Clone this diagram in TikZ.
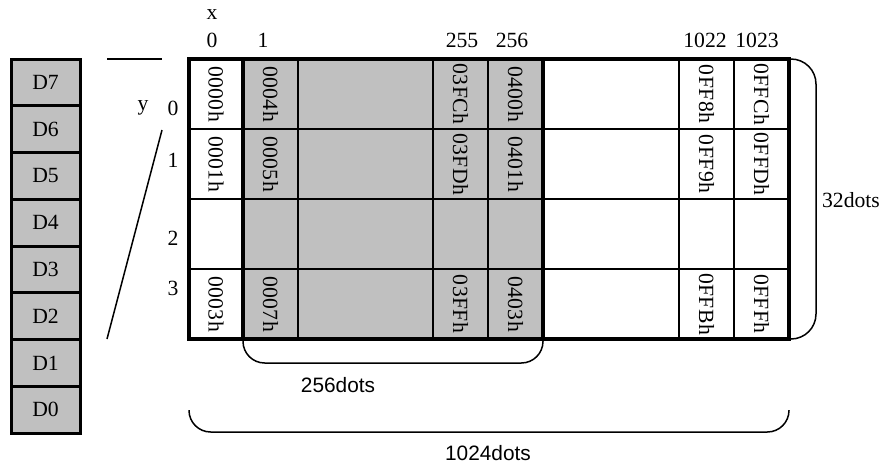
\documentclass[tikz,border=0pt]{standalone}
\usepackage{fontspec}
\setmainfont{Liberation Serif}
\newfontfamily\cellfont[LetterSpace=2]{Liberation Serif}
\newfontfamily\dotsfont{Liberation Sans}
\usetikzlibrary{positioning,calc}
\definecolor{cellgray}{HTML}{C0C0C0}

\begin{document}
\begin{tikzpicture}[x=0.6pt, y=-0.6pt,
      bitbox/.style={draw, line width=1.8pt, fill=cellgray, minimum width=41.4pt,
                     minimum height=28.05pt, inner sep=0pt, font=\fontsize{13}{13}\selectfont},
      addr/.style={rotate=-90, inner sep=0pt, font=\cellfont\fontsize{13}{13}\selectfont},
      idx/.style={inner sep=0pt, font=\fontsize{13}{13}\selectfont},
      dotslbl/.style={inner sep=0pt, font=\dotsfont\fontsize{12.5}{12.5}\selectfont},
      gridline/.style={line width=0.9pt},
      frame/.style={line width=1.9pt},
      brace/.style={line width=0.9pt}]
    \useasboundingbox (0,0) rectangle (883,467);
    % data bits D7 (top) ... D0 (bottom)
    \foreach \i in {0,...,7}
      \node[bitbox] (d\i) at (45.5,{433-46.75*(\i+0.5)}) {D\i};
    % memory grid
    \fill[cellgray] (243,59) rectangle (543,339);
    \foreach \cx in {298,433,488,679,734} \draw[gridline] (\cx,59) -- (\cx,339);
    \foreach \ry in {129,199,269} \draw[gridline] (189,\ry) -- (789,\ry);
    \draw[frame] (189,59) rectangle (789,339);
    \draw[frame] (243,59) rectangle (543,339);
    \coordinate (gtl) at (189,59);
    \coordinate (gtr) at (789,59);
    \coordinate (gbl) at (189,339);
    \coordinate (gbr) at (789,339);
    \coordinate (sbl) at (243,339);
    \coordinate (sbr) at (543,339);
    % addresses, rows 0, 1 and 3
    \foreach \cx/\a/\b/\c [count=\k] in {216/0000h/0001h/0003h, 270.5/0004h/0005h/0007h,
        460.5/03FCh/03FDh/03FFh, 515.5/0400h/0401h/0403h,
        706.5/0FF8h/0FF9h/0FFBh, 761.5/0FFCh/0FFDh/0FFFh} {
      \node[addr] (a\k r0) at (\cx,94) {\a};
      \node[addr] (a\k r1) at (\cx,164) {\b};
      \node[addr] (a\k r3) at (\cx,304) {\c};
    }
    % x and y indices
    \node[idx] (xlbl) at (212,15) {x};
    \foreach \cx/\t [count=\k] in {212/0, 263/1, 462/255, 512/256, 705/1022, 757/1023}
      \node[idx] (x\k) at (\cx,40) {\t};
    \node[idx] (ylbl) at (143,108) {y};
    \foreach \ry/\t in {108/0, 160/1, 238/2, 288/3}
      \node[idx] (y\t) at (173,\ry) {\t};
    % byte to column
    \coordinate (htop) at (107,59);
    \coordinate (dtop) at (162,130);
    \coordinate (dbot) at (107,339);
    \draw[brace] (htop) -- (htop -| 162,0);
    \draw[brace] (dtop) -- (dbot);
    % braces
    \draw[brace, rounded corners=15pt] (gtr) -- ++(27,0) |- (gbr);
    \node[idx] (rows) at (851,200) {32dots};
    \draw[brace, rounded corners=13pt] (sbl) -- ++(0,24) -| (sbr);
    \node[dotslbl] (w256) at (338,385) {256dots};
    \draw[brace, rounded corners=13pt] (gbl) ++(0,71) -- ++(0,22) -| ($(gbr)+(0,71)$);
    \node[dotslbl] (w1024) at (488,453) {1024dots};
  \end{tikzpicture}
\end{document}
